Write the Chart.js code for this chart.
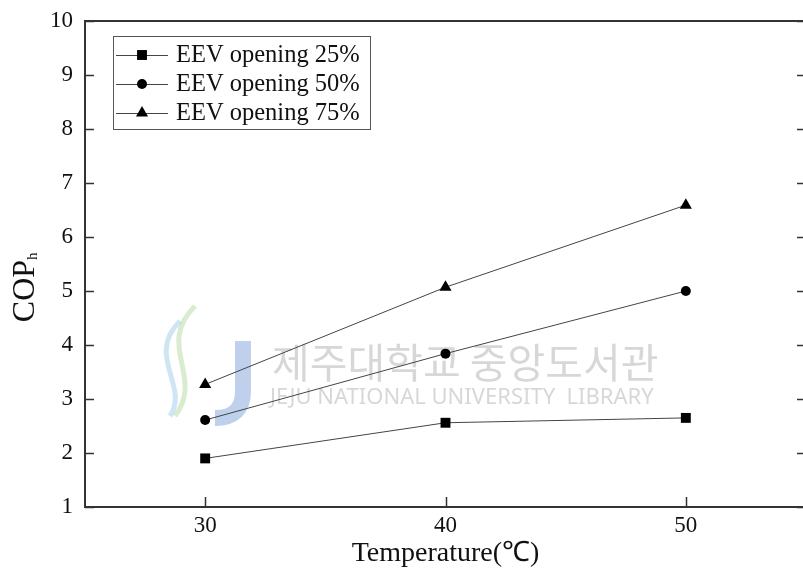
<!DOCTYPE html>
<html>
<head>
<meta charset="utf-8">
<script src="https://cdn.jsdelivr.net/npm/chart.js@4.4.0/dist/chart.umd.min.js"></script>
<style>
    html, body { margin: 0; padding: 0; background: #fff; overflow: hidden; }
    #wrap { position: relative; width: 813px; height: 571px; }
</style>
</head>
<body>
<div id="wrap"><canvas id="copChart"></canvas></div>
<script>
// ---- data ----
const temperatures = [30, 40, 50];
const cop25 = [1.90, 2.56, 2.65];
const cop50 = [2.61, 3.84, 5.00];
const cop75 = [3.27, 5.07, 6.59];
const seriesLabels = ['EEV opening 25%', 'EEV opening 50%', 'EEV opening 75%'];
const pointStyles = ['rect', 'circle', 'triangle'];
const xTicks = [30, 40, 50];
const yTicks = [1, 2, 3, 4, 5, 6, 7, 8, 9, 10];

const SERIF = "'Liberation Serif', 'Times New Roman', serif";
const INK = '#111';
const AXIS = '#333';

function toPoints(values) {
    return temperatures.map((t, i) => ({ x: t, y: values[i] }));
}

const seriesValues = [cop25, cop50, cop75];
const pointSizes = [7, 5, 7];

const datasets = seriesValues.map((vals, i) => ({
    label: seriesLabels[i],
    data: toPoints(vals),
    borderColor: '#444',
    borderWidth: 1,
    pointStyle: pointStyles[i],
    pointRadius: pointSizes[i],
    pointBackgroundColor: '#000',
    pointBorderColor: '#000',
    pointBorderWidth: 0,
    showLine: true,
    tension: 0
}));

// faint library watermark behind the data
const watermarkPlugin = {
    id: 'watermark',
    beforeDatasetsDraw(chart) {
        const { ctx, chartArea: a } = chart;
        ctx.save();
        const lx = a.left + 80, ly = a.top + 285;
        // swooshes
        ctx.lineWidth = 5;
        ctx.strokeStyle = 'rgba(150, 200, 120, 0.35)';
        ctx.beginPath();
        ctx.moveTo(lx + 30, ly);
        ctx.bezierCurveTo(lx - 10, ly + 40, lx + 40, ly + 70, lx + 10, ly + 110);
        ctx.stroke();
        ctx.strokeStyle = 'rgba(120, 180, 220, 0.35)';
        ctx.beginPath();
        ctx.moveTo(lx + 15, ly + 15);
        ctx.bezierCurveTo(lx - 20, ly + 50, lx + 25, ly + 80, lx + 5, ly + 110);
        ctx.stroke();
        // J
        ctx.strokeStyle = 'rgba(110, 150, 210, 0.45)';
        ctx.lineWidth = 16;
        ctx.beginPath();
        ctx.moveTo(lx + 78, ly + 35);
        ctx.lineTo(lx + 78, ly + 85);
        ctx.quadraticCurveTo(lx + 78, ly + 112, lx + 50, ly + 112);
        ctx.stroke();
        // texts
        ctx.fillStyle = 'rgba(150, 150, 150, 0.38)';
        ctx.textAlign = 'left';
        ctx.textBaseline = 'middle';
        ctx.font = "41px 'Noto Sans CJK KR', sans-serif";
        ctx.fillText('제주대학교 중앙도서관', a.left + 187, a.top + 341);
        ctx.font = "22px 'Noto Sans', sans-serif";
        ctx.fillText('JEJU NATIONAL UNIVERSITY  LIBRARY', a.left + 185, a.top + 377);
        ctx.restore();
    }
};

// frame with inward ticks
const framePlugin = {
    id: 'frame',
    afterDraw(chart) {
        const { ctx, chartArea: a, scales } = chart;
        ctx.save();
        ctx.strokeStyle = AXIS;
        ctx.lineWidth = 2;
        ctx.strokeRect(a.left, a.top, a.right - a.left, a.bottom - a.top);
        ctx.lineWidth = 1.5;
        ctx.beginPath();
        yTicks.forEach(v => {
            const py = Math.round(scales.y.getPixelForValue(v)) + 0.5;
            ctx.moveTo(a.left, py); ctx.lineTo(a.left + 9, py);
            ctx.moveTo(a.right, py); ctx.lineTo(a.right - 9, py);
        });
        xTicks.forEach(v => {
            const px = Math.round(scales.x.getPixelForValue(v)) + 0.5;
            ctx.moveTo(px, a.bottom); ctx.lineTo(px, a.bottom - 10);
        });
        ctx.stroke();
        ctx.restore();
    }
};

// y title with subscript
const yTitlePlugin = {
    id: 'yTitle',
    afterDraw(chart) {
        const { ctx } = chart;
        ctx.save();
        ctx.translate(26, 287);
        ctx.rotate(-Math.PI / 2);
        ctx.fillStyle = INK;
        ctx.textBaseline = 'middle';
        ctx.textAlign = 'left';
        ctx.font = '32px ' + SERIF;
        const w = ctx.measureText('COP').width;
        const total = w + 8;
        ctx.fillText('COP', -total / 2, 0);
        ctx.font = '15px ' + SERIF;
        ctx.fillText('h', -total / 2 + w, 7);
        ctx.restore();
    }
};

// boxed legend in the upper left corner
const boxLegendPlugin = {
    id: 'boxLegend',
    afterDraw(chart) {
        const { ctx, chartArea: a } = chart;
        const bx = a.left + 28, by = a.top + 15, bw = 257, bh = 93;
        ctx.save();
        ctx.fillStyle = '#fff';
        ctx.fillRect(bx, by, bw, bh);
        ctx.strokeStyle = '#555';
        ctx.lineWidth = 1;
        ctx.strokeRect(bx + 0.5, by + 0.5, bw, bh);
        chart.data.datasets.forEach((ds, i) => {
            const ry = by + 19 + i * 29;
            ctx.strokeStyle = '#444';
            ctx.beginPath();
            ctx.moveTo(bx + 3, ry + 0.5);
            ctx.lineTo(bx + 55, ry + 0.5);
            ctx.stroke();
            ctx.fillStyle = '#000';
            Chart.helpers.drawPoint(ctx, {
                pointStyle: ds.pointStyle,
                radius: ds.pointRadius,
                borderWidth: 0
            }, bx + 29, ry);
            ctx.fillStyle = INK;
            ctx.font = '24.5px ' + SERIF;
            ctx.textBaseline = 'middle';
            ctx.textAlign = 'left';
            ctx.fillText(ds.label, bx + 63, ry + 1);
        });
        ctx.restore();
    }
};

const chart = new Chart(document.getElementById('copChart'), {
    type: 'scatter',
    data: { datasets },
    plugins: [watermarkPlugin, framePlugin, yTitlePlugin, boxLegendPlugin],
    options: {
        responsive: true,
        maintainAspectRatio: false,
        animation: false,
        layout: { padding: { left: 0, top: 21, right: 2, bottom: 0 } },
        plugins: {
            legend: { display: false },
            tooltip: { enabled: false }
        },
        scales: {
            x: {
                type: 'linear',
                min: 25,
                max: 55,
                afterBuildTicks: s => { s.ticks = xTicks.map(v => ({ value: v })); },
                afterFit: s => { s.height = 64; s.paddingLeft = 0; s.paddingRight = 0; },
                grid: { display: false, drawTicks: false },
                border: { display: false },
                ticks: {
                    color: INK,
                    padding: 5,
                    maxRotation: 0,
                    font: { family: SERIF, size: 23 }
                },
                title: {
                    display: true,
                    text: 'Temperature(℃)',
                    color: INK,
                    padding: { top: 0, bottom: 1 },
                    font: { family: SERIF, size: 28 }
                }
            },
            y: {
                type: 'linear',
                min: 1,
                max: 10,
                afterBuildTicks: s => { s.ticks = yTicks.map(v => ({ value: v })); },
                afterFit: s => { s.width = 85; s.paddingTop = 0; s.paddingBottom = 0; },
                grid: { display: false, drawTicks: false },
                border: { display: false },
                ticks: {
                    color: INK,
                    padding: 12,
                    font: { family: SERIF, size: 23 }
                },
                title: { display: false }
            }
        }
    }
});
</script>
</body>
</html>
